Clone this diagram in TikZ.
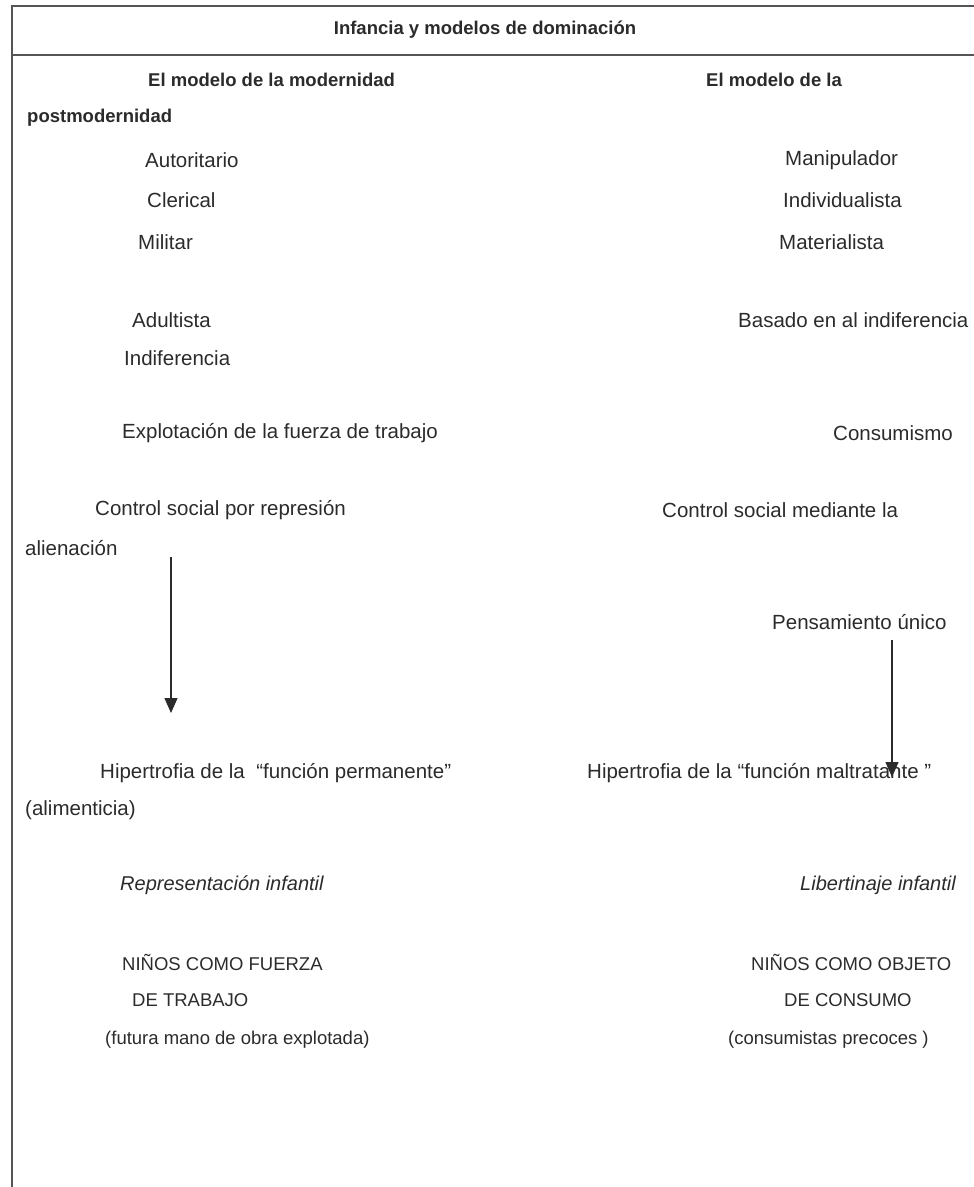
\documentclass[tikz,border=0pt]{standalone}
\usepackage{fontspec}
\setmainfont{Liberation Sans}
\usetikzlibrary{arrows.meta}

\definecolor{tinta}{HTML}{2B2B2B}
\definecolor{borde}{HTML}{555555}

\tikzset{
  txt/.style={anchor=west, inner sep=0pt, text=tinta, font=\fontsize{20.5}{24}\selectfont},
  peq/.style={txt, font=\fontsize{18.5}{22}\selectfont},
  tit/.style={txt, font=\fontsize{18.5}{22}\selectfont\bfseries},
  cur/.style={txt, font=\fontsize{20}{24}\selectfont\itshape},
  flecha/.style={draw=tinta, line width=1.3pt, -{Triangle[width=13pt,length=15pt]}}
}

\begin{document}
\begin{tikzpicture}[x=1pt,y=-1pt]
\useasboundingbox (0,0) rectangle (974,1187);
% marco
\draw [borde, line width=1.5pt] (974,6) -- (12,6) -- (12,1187);
\draw [borde, line width=1.5pt] (12,55) -- (974,55);
\node [tit, anchor=center] (titulo) at (485,30) {Infancia y modelos de dominación};
% encabezados
\node [tit] (mod) at (148,80) {El modelo de la modernidad};
\node [tit] (post) at (706,80) {El modelo de la};
\node [tit] (postb) at (27,118) {postmodernidad};
% columna izquierda
\node [txt] (aut) at (145,160) {Autoritario};
\node [txt] (cle) at (147,200) {Clerical};
\node [txt] (mil) at (138,242) {Militar};
\node [txt] (adu) at (132,320) {Adultista};
\node [txt] (ind) at (124,358) {Indiferencia};
\node [txt] (exp) at (122,433) {Explotación de la fuerza de trabajo};
\node [txt] (ctl) at (95,510) {Control social por represión};
\node [txt] (ali) at (25,548) {alienación};
\node [txt] (hipa) at (100,773) {Hipertrofia de la\ \ “función permanente”};
\node [txt] (alim) at (25,810) {(alimenticia)};
\node [cur] (rep) at (120,885) {Representación infantil};
\node [peq] (nfa) at (122,962) {NIÑOS COMO FUERZA};
\node [peq] (nfb) at (132,1000) {DE TRABAJO};
\node [peq] (nfc) at (105,1040) {(futura mano de obra explotada)};
% columna derecha
\node [txt] (man) at (785,160) {Manipulador};
\node [txt] (indv) at (783,200) {Individualista};
\node [txt] (mat) at (779,242) {Materialista};
\node [txt] (bas) at (738,320) {Basado en al indiferencia};
\node [txt] (con) at (833,433) {Consumismo};
\node [txt] (ctm) at (662,510) {Control social mediante la};
\node [txt] (pen) at (772,622) {Pensamiento único};
\node [txt] (hipb) at (587,773) {Hipertrofia de la “función maltratante ”};
\node [cur] (lib) at (800,885) {Libertinaje infantil};
\node [peq] (noa) at (751,962) {NIÑOS COMO OBJETO};
\node [peq] (nob) at (784,1000) {DE CONSUMO};
\node [peq] (noc) at (728,1040) {(consumistas precoces )};
% flechas
\coordinate (fa1) at (171,557);
\coordinate (fa2) at (171,713);
\coordinate (fb1) at (892,640);
\coordinate (fb2) at (892,777);
\draw [flecha] (fa1) -- (fa2);
\draw [flecha] (fb1) -- (fb2);
\end{tikzpicture}
\end{document}
